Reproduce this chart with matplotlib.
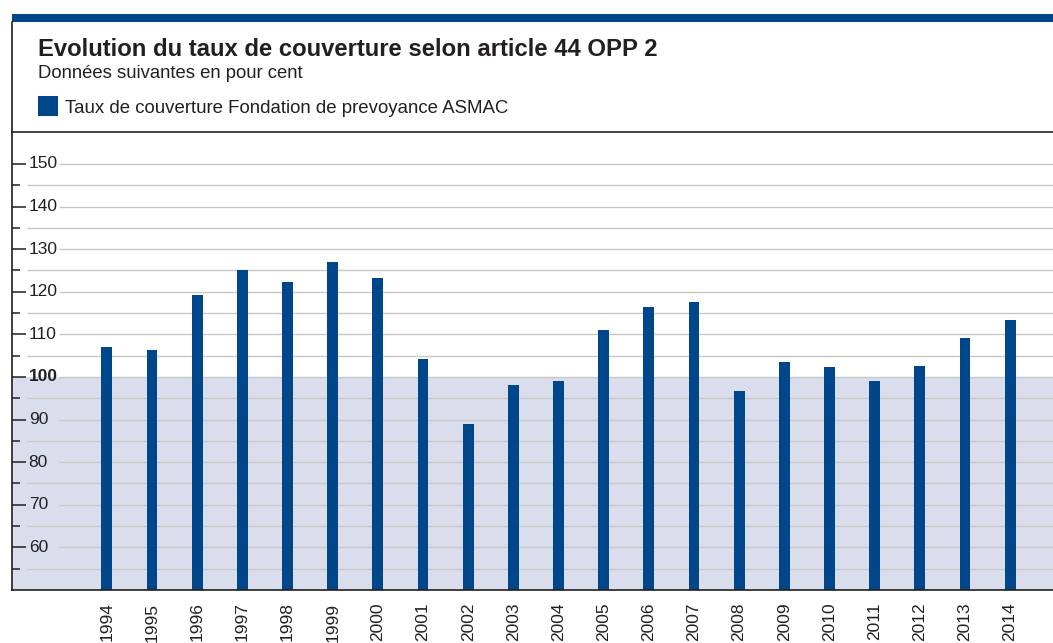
import matplotlib.pyplot as plt
from matplotlib.lines import Line2D
from matplotlib.patches import Rectangle

plt.rcParams['font.family'] = ['Liberation Sans', 'DejaVu Sans']

annees = [str(a) for a in range(1994, 2015)]
taux = [107.0, 106.3, 119.2, 125.1, 122.3, 127.0, 123.2, 104.2, 89.0, 98.1, 99.1,
        111.0, 116.4, 117.6, 96.7, 103.5, 102.3, 99.1, 102.6, 109.2, 113.4]
yticks_major = [60, 70, 80, 90, 100, 110, 120, 130, 140, 150]
yticks_minor = [55, 65, 75, 85, 95, 105, 115, 125, 135, 145]

bleu = '#00468A'
trait = '#231F20'
W, H = 1053, 643

fig = plt.figure(figsize=(W / 100, H / 100), dpi=100)
ax = fig.add_axes([12 / W, (H - 590) / H, (W - 12) / W, (590 - 132) / H])

# fond sous 100 %
ax.axhspan(50, 100, color='#DADDEB', zorder=0, lw=0)

# grille: courte pour les mineures, après l'étiquette pour les majeures
tr = ax.get_yaxis_transform()
ax.hlines(yticks_minor, 15 / 1041, 1, transform=tr, color='#C8C8C8', lw=1, zorder=1)
ax.hlines(yticks_major, 47 / 1041, 1, transform=tr, color='#C8C8C8', lw=1, zorder=1)

x = list(range(len(annees)))
ax.bar(x, taux, width=0.24, color=bleu, zorder=2)

ax.set_xlim(-2.1, 20.95)
ax.set_ylim(50, 157.5)
ax.set_xticks(x, annees, rotation=90, fontsize=12.5, color=trait)
ax.tick_params(axis='x', length=0, pad=9)

ax.set_yticks(yticks_major)
ax.set_yticks(yticks_minor, minor=True)
ax.tick_params(axis='y', which='major', direction='in', length=10, width=1.1,
               pad=-12, labelsize=12.5, labelcolor=trait, color=trait)
ax.tick_params(axis='y', which='minor', direction='in', length=5.5, width=1.1, color=trait)
for lbl in ax.get_yticklabels():
    lbl.set_horizontalalignment('left')
    lbl.set_verticalalignment('center')
    if lbl.get_text() == '100':
        lbl.set_fontweight('bold')

ax.spines['right'].set_visible(False)
for s in ['left', 'bottom', 'top']:
    ax.spines[s].set_color(trait)
    ax.spines[s].set_linewidth(1.2)

# cadre de l'en-tête
fig.add_artist(Rectangle((12 / W, (H - 22) / H), 1 - 12 / W, 8 / H,
                         transform=fig.transFigure, color=bleu, lw=0))
fig.add_artist(Line2D([12 / W, 12 / W], [(H - 132) / H, (H - 22) / H],
                      transform=fig.transFigure, color=trait, lw=1.2))

fig.text(38 / W, 1 - 56 / H, 'Evolution du taux de couverture selon article 44 OPP 2',
         fontsize=17.2, fontweight='bold', color=trait, va='baseline')
fig.text(38 / W, 1 - 78 / H, 'Données suivantes en pour cent',
         fontsize=13.3, color=trait, va='baseline')
fig.add_artist(Rectangle((38 / W, 1 - 116 / H), 20 / W, 20 / H,
                         transform=fig.transFigure, color=bleu, lw=0))
fig.text(65 / W, 1 - 113 / H, 'Taux de couverture Fondation de prevoyance ASMAC',
         fontsize=13.4, color=trait, va='baseline')

fig.savefig('out.png', dpi=100)
